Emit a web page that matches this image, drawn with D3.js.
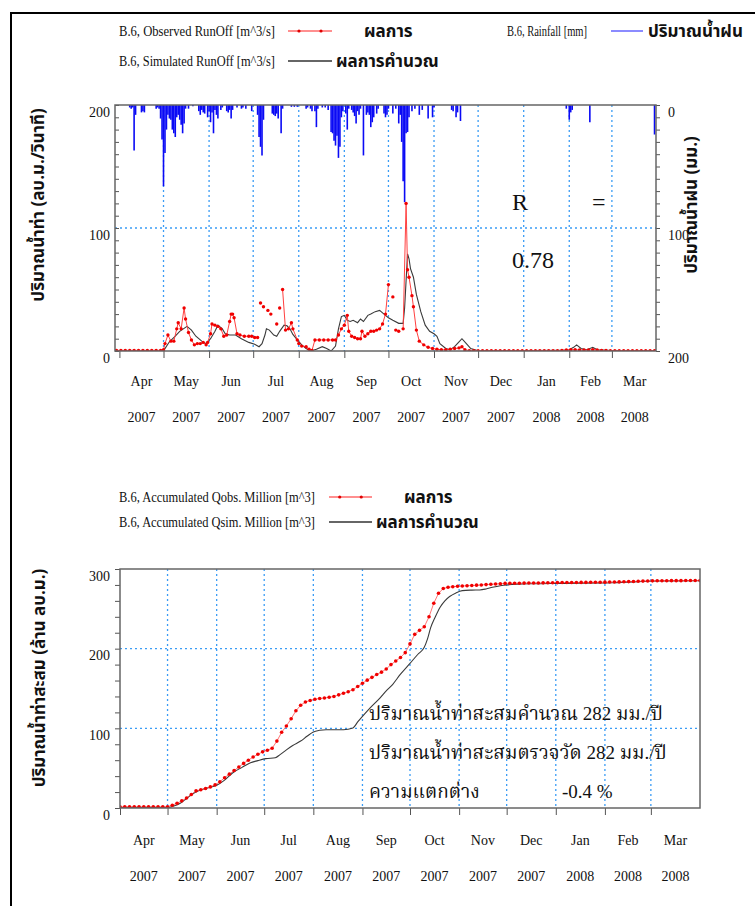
<!DOCTYPE html>
<html>
<head>
<meta charset="utf-8">
<script src="https://cdn.jsdelivr.net/npm/d3@7"></script>
<style>
  body { margin: 0; background: #fff; }
  svg text { font-family: "Liberation Serif", "Times New Roman", serif; fill: #111; }
  .th { font-family: "Tahoma", "Noto Sans Thai", "DejaVu Sans", sans-serif; font-weight: bold; }
  .thserif { font-family: "Liberation Serif", "Noto Serif Thai", serif; }
  .axis path { display: none; }
  .axis line { stroke: #555; }
</style>
</head>
<body>
<svg id="chart" width="755" height="906"></svg>
<script>
// ---- data (day = days after 1 Apr 2007) ----
const months = ['Apr', 'May', 'Jun', 'Jul', 'Aug', 'Sep', 'Oct', 'Nov', 'Dec', 'Jan', 'Feb', 'Mar'];
const years = ['2007', '2007', '2007', '2007', '2007', '2007', '2007', '2007', '2007', '2008', '2008', '2008'];

// observed runoff [m^3/s], null = gap in the record
const obsRunoff = [
  [-2, 0.5], [1, 0.5], [4, 0.5], [7, 0.5], [10, 0.5], [13, 0.5], [16, 0.5], [19, 0.5], [22, 0.5], [25, 0.5], [28, 0.5],
  [30, 1], [31, 6], [33, 13], [35, 8], [37, 8], [39, 18], [40, 23], [42, 18], [44, 35], [45, 26], [47, 15], [49, 9],
  [51, 5], [53, 6], [55, 6], [57, 7], [59, 5], [60, 7], [62, 14], [63, 22], [65, 21], [67, 20], [69, 18], [71, 12],
  [73, 13], [75, 24], [76, 30], [77, 30], [78, 27], [80, 14], [82, 13], [85, 12], [88, 12], [90, 12], [92, 11], [94, 11],
  [95, null], [96, 39], [97, null], [98, 36], [99, null], [101, 33], [102, null], [103, 30], [105, null], [107, 22],
  [108, null], [109, 35], [110, null], [111, 50], [113, 17], [115, 18], [117, 23], [118, 18], [121, 9], [122, 6],
  [124, 4], [127, 3.5], [129, 1.5], [131, 0.5], [133, 9], [136, 9], [139, 9], [142, 9], [145, 9], [147, 9], [149, 13],
  [151, 18], [153, 21], [155, 29], [156, 16], [158, 12], [160, 11], [162, 10], [164, 10], [165, 16], [167, 12],
  [169, 14], [171, 16], [173, 16], [175, 17], [177, 18], [179, 22], [181, 30], [183, 54], [184, null], [186, 44],
  [187, null], [188, 17], [190, 16], [191, null], [193, 18], [195, 120], [196, 66], [197, 60], [199, 45], [200, 36],
  [202, 17], [204, 8], [207, 5], [210, 3], [213, 2], [216, 1.5], [219, 1], [222, 1], [225, 1.5], [228, 2], [231, 2.5],
  [233, 3.5], [235, 1], [238, 0.3], [241, 0.3], [244, 0.3], [247, 0.3], [250, 0.3], [253, 0.3], [256, 0.3], [259, 0.3],
  [262, 0.3], [265, 0.3], [268, 0.3], [271, 0.3], [274, 0.3], [277, 0.3], [280, 0.3], [283, 0.3], [286, 0.3],
  [289, 0.3], [292, 0.3], [295, 0.3], [298, 0.3], [301, 0.5], [304, 0.8], [307, 1], [310, 1], [313, 0.8], [316, 0.8],
  [319, 0.8], [322, 1], [325, 0.8], [328, 0.5], [331, 0.5], [334, 0.3], [337, 0.3], [340, 0.3], [343, 0.3],
  [346, 0.3], [349, 0.3], [352, 0.3], [355, 0.3], [358, 0.3], [361, 0.3], [364, 0.3]
];

// simulated runoff [m^3/s]
const simRunoff = [
  [-3, 0], [29, 0], [31, 2], [34, 7.5], [38, 12], [41, 16], [46, 20], [49, 17], [52, 12], [56, 8], [59, 6], [62, 10],
  [65, 16], [67, 21], [70, 18], [72, 14], [75, 13], [79, 13], [83, 10], [88, 7], [92, 5.5], [95, 3.5], [97, 6],
  [99, 13], [100, 18], [102, 17], [105, 13], [107, 12], [109, 16], [112, 21], [114, 20.5], [116, 18], [118, 13.5],
  [121, 9], [124, 5], [127, 2], [130, 0], [134, 1.5], [138, 3.5], [141, 2], [144, 0], [147, 4], [149, 18], [151, 28],
  [153, 29], [155, 25], [157, 24], [159, 25], [162, 23], [164, 26], [166, 24], [169, 29], [171, 30], [174, 32],
  [177, 33], [179, 31], [181, 29], [183, 27], [186, 25], [190, 22.5], [193, 22.5], [194, 35], [196, 79], [197, 75],
  [198, 67], [200, 60], [202, 46], [205, 32], [208, 21], [211, 16], [214, 14], [216, 12], [218, 6], [222, 2],
  [225, 1], [228, 3.5], [231, 7.5], [233, 10], [236, 6], [239, 2], [243, 0.5], [250, 0.3], [280, 0.3], [305, 0.5],
  [309, 3], [311, 5], [314, 2], [318, 1], [322, 3], [325, 1], [335, 0.3], [365, 0.3]
];

// daily rainfall [mm]
const rainfall = [
  [7, 2], [8, 3], [9, 2], [10, 37], [11, 8], [15, 6], [16, 5], [17, 6], [25, 3], [26, 2], [27, 3], [28, 11], [29, 28],
  [30, 66], [31, 39], [32, 20], [33, 8], [34, 11], [35, 12], [36, 20], [37, 23], [38, 26], [39, 10], [40, 8], [41, 12],
  [42, 16], [43, 23], [44, 15], [45, 3], [47, 3], [50, 1], [54, 5], [55, 8], [56, 4], [57, 6], [58, 7], [60, 10],
  [61, 5], [62, 14], [63, 6], [64, 23], [65, 4], [66, 8], [67, 11], [69, 4], [70, 2], [73, 5], [74, 6], [75, 4],
  [76, 11], [77, 4], [80, 2], [83, 3], [84, 2], [86, 3], [90, 5], [94, 8], [95, 26], [96, 34], [97, 41], [98, 12],
  [104, 7], [105, 8], [106, 9], [107, 7], [108, 11], [110, 23], [111, 3], [117, 1.5], [119, 1.5], [121, 1.5],
  [127, 3], [128, 2], [130, 3], [131, 5], [133, 5], [134, 18], [135, 3], [138, 2], [140, 2], [142, 4], [144, 22],
  [145, 23], [146, 29], [147, 33], [148, 25], [149, 43], [150, 34], [151, 10], [152, 5], [154, 7], [155, 20], [156, 3],
  [158, 4], [159, 6], [160, 9], [161, 15], [162, 5], [163, 8], [164, 3], [166, 41], [168, 8], [169, 6], [170, 8],
  [171, 18], [172, 14], [173, 10], [175, 7], [176, 3], [180, 7], [181, 10], [182, 8], [183, 3], [186, 7], [188, 3],
  [190, 15], [191, 8], [192, 30], [193, 62], [194, 79], [195, 23], [196, 22], [197, 10], [199, 5], [201, 3], [204, 8],
  [206, 4], [210, 11], [213, 10], [214, 2], [226, 4], [227, 5], [229, 10], [230, 6], [232, 13], [304, 3], [306, 12],
  [307, 6], [308, 4], [320, 14], [364, 24]
];

// accumulated observed flow [million m^3]
const accObs = [
  [0, 1.5], [3, 1.5], [6, 1.5], [9, 1.5], [12, 1.5], [15, 1.5], [18, 1.5], [21, 1.5], [24, 1.5], [27, 1.5], [30, 1.5],
  [33, 3.5], [36, 6], [39, 9], [42, 12.5], [45, 17], [48, 21.5], [51, 23], [54, 24.5], [57, 26.5], [60, 29], [63, 33],
  [66, 38], [69, 42.5], [72, 47], [75, 51.5], [78, 56], [81, 60], [84, 64], [87, 67.5], [90, 70.5], [93, 72.5],
  [96, 75], [99, 84], [102, 95], [105, 103], [108, 112], [111, 122], [114, 129], [117, 133], [120, 135], [123, 136.5],
  [126, 137.5], [129, 138], [132, 139], [135, 140], [138, 142], [141, 144], [144, 146], [147, 148.5], [150, 152.5],
  [153, 156.5], [156, 160.5], [159, 164], [162, 167.5], [165, 170.5], [168, 174.5], [171, 180], [174, 184.5],
  [177, 189], [180, 195], [183, 206], [186, 218], [189, 223], [192, 227.5], [195, 240], [198, 257], [201, 269.5],
  [204, 275.5], [207, 277], [210, 277.8], [213, 278.3], [216, 278.7], [219, 279], [222, 279.3], [225, 279.7],
  [228, 280], [231, 280.4], [234, 280.8], [237, 281.2], [240, 281.5], [243, 281.9], [246, 282], [249, 282.1],
  [252, 282.2], [255, 282.3], [258, 282.4], [261, 282.5], [264, 282.5], [267, 282.6], [270, 282.7], [273, 282.8],
  [276, 282.9], [279, 283], [282, 283], [285, 283.1], [288, 283.1], [291, 283.2], [294, 283.2], [297, 283.3],
  [300, 283.4], [303, 283.4], [306, 283.5], [309, 283.6], [312, 283.6], [315, 283.8], [318, 284], [321, 284.2],
  [324, 284.4], [327, 284.6], [330, 284.8], [333, 285], [336, 285.1], [339, 285.2], [342, 285.3], [345, 285.3],
  [348, 285.4], [351, 285.4], [354, 285.4], [357, 285.5], [360, 285.5], [363, 285.5], [366, 285.6]
];

// accumulated simulated flow [million m^3]
const accSim = [
  [0, 0.5], [30, 0.5], [34, 2.5], [38, 6], [42, 12], [46, 18], [50, 22], [55, 25], [61, 28.5], [66, 35], [71, 44],
  [77, 51], [82, 56.5], [87, 59.5], [92, 62], [98, 63], [101, 67], [105, 73], [109, 78.5], [114, 84], [118, 90],
  [122, 95.5], [126, 97.5], [130, 98.3], [141, 98.3], [147, 100.5], [150, 108], [153, 115], [158, 126], [164, 138],
  [168, 147], [172, 155], [177, 168], [183, 181.6], [188, 193], [192, 201.7], [194, 212], [196, 226], [199, 240],
  [202, 252], [205, 260], [208, 265.5], [212, 270], [216, 272.8], [222, 273.5], [227, 273.7], [231, 275], [235, 277],
  [240, 279], [244, 280], [260, 281.5], [278, 282], [311, 282.8], [341, 285], [366, 285.3]
];

const rValue = '0.78';
const noteLines = ['ปริมาณน้ำท่าสะสมคำนวณ 282 มม./ปี', 'ปริมาณน้ำท่าสะสมตรวจวัด 282 มม./ปี', 'ความแตกต่าง'];
const diffText = '-0.4 %';

// ---- helpers ----
const t0 = Date.UTC(2007, 3, 1);
const day = d => new Date(t0 + d * 864e5);
const monthStarts = d3.range(0, 13).map(i => new Date(Date.UTC(2007, 3 + i, 1)));

const svg = d3.select('#chart');

// page frame
svg.append('path')
    .attr('d', 'M11,906 V13 H755')
    .attr('fill', 'none')
    .attr('stroke', '#000')
    .attr('stroke-width', 2);

function legendEntry(g, y, label, x1, x2, color, dots, thai, thaiX, labelW) {
    g.append('text')
        .attr('x', 119).attr('y', y + 4.5)
        .attr('font-size', 14)
        .attr('textLength', labelW).attr('lengthAdjust', 'spacingAndGlyphs')
        .text(label);
    g.append('line')
        .attr('x1', x1).attr('x2', x2).attr('y1', y).attr('y2', y)
        .attr('stroke', color).attr('stroke-width', 1.6);
    if (dots) {
        [x1 + (x2 - x1) * 0.25, x1 + (x2 - x1) * 0.75].forEach(cx => {
            g.append('circle').attr('cx', cx).attr('cy', y).attr('r', 1.6).attr('fill', '#e00000');
        });
    }
    g.append('text')
        .attr('class', 'th')
        .attr('x', thaiX).attr('y', y + 6)
        .attr('font-size', 17)
        .text(thai);
}

function grid(g, x, y, xr, yr, yVals) {
    const dash = { stroke: '#3a9cf5', 'stroke-width': 1.3, 'stroke-dasharray': '2,3' };
    const vg = g.selectAll('line.vg').data(monthStarts.slice(1, 12)).enter()
        .append('line').attr('class', 'vg')
        .attr('x1', d => x(d)).attr('x2', d => x(d))
        .attr('y1', yr[0]).attr('y2', yr[1]);
    const hg = g.selectAll('line.hg').data(yVals).enter()
        .append('line').attr('class', 'hg')
        .attr('x1', xr[0]).attr('x2', xr[1])
        .attr('y1', d => y(d)).attr('y2', d => y(d));
    Object.entries(dash).forEach(([k, v]) => { vg.attr(k, v); hg.attr(k, v); });
}

function monthLabels(g, x, yMonth, yYear) {
    monthStarts.slice(0, 12).forEach((m, i) => {
        const cx = (x(m) + x(monthStarts[i + 1])) / 2;
        g.append('text').attr('x', cx).attr('y', yMonth).attr('text-anchor', 'middle')
            .attr('font-size', 14).text(months[i]);
        g.append('text').attr('x', cx).attr('y', yYear).attr('text-anchor', 'middle')
            .attr('font-size', 14).text(years[i]);
    });
}

// ================= top chart: runoff + rainfall =================
const topG = svg.append('g');
const xT = d3.scaleUtc().domain([day(-3), day(365)]).range([115, 656]);
const yT = d3.scaleLinear().domain([0, 200]).range([351, 105]);
const yR = d3.scaleLinear().domain([0, 200]).range([105, 351]);

legendEntry(topG, 31, 'B.6, Observed RunOff [m^3/s]', 288, 332, '#ff6a6a', true, 'ผลการ', 364, 156);
legendEntry(topG, 61, 'B.6, Simulated RunOff [m^3/s]', 288, 332, '#333', false, 'ผลการคำนวณ', 336, 156);
topG.append('text').attr('x', 507).attr('y', 35.5).attr('font-size', 14)
    .attr('textLength', 80).attr('lengthAdjust', 'spacingAndGlyphs').text('B.6, Rainfall [mm]');
topG.append('line').attr('x1', 611).attr('x2', 643).attr('y1', 31).attr('y2', 31)
    .attr('stroke', '#6e6eff').attr('stroke-width', 1.6);
topG.append('text').attr('class', 'th').attr('x', 648).attr('y', 37).attr('font-size', 17).text('ปริมาณน้ำฝน');

topG.append('clipPath').attr('id', 'clipT').append('rect')
    .attr('x', 115).attr('y', 105).attr('width', 541).attr('height', 246);

grid(topG, xT, yT, [115, 656], [105, 351], [100]);

const plotT = topG.append('g').attr('clip-path', 'url(#clipT)');

plotT.selectAll('line.rain').data(rainfall).enter()
    .append('line').attr('class', 'rain')
    .attr('x1', d => xT(day(d[0]))).attr('x2', d => xT(day(d[0])))
    .attr('y1', yR(0)).attr('y2', d => yR(d[1]))
    .attr('stroke', '#0a0af5').attr('stroke-width', 1.6);

const lineT = d3.line()
    .defined(d => d[1] !== null)
    .x(d => xT(day(d[0])))
    .y(d => yT(d[1]));

plotT.append('path').datum(simRunoff)
    .attr('d', lineT).attr('fill', 'none')
    .attr('stroke', '#3a3a3a').attr('stroke-width', 1.1);

plotT.append('path').datum(obsRunoff)
    .attr('d', lineT).attr('fill', 'none')
    .attr('stroke', '#ff4040').attr('stroke-width', 1);

plotT.selectAll('circle.obs').data(obsRunoff.filter(d => d[1] !== null)).enter()
    .append('circle').attr('class', 'obs')
    .attr('cx', d => xT(day(d[0]))).attr('cy', d => yT(d[1]))
    .attr('r', 1.7).attr('fill', '#f00000');

// axes
topG.append('g').attr('class', 'axis')
    .attr('transform', 'translate(115,0)')
    .call(d3.axisLeft(yT).tickValues(d3.range(0, 201, 10)).tickSize(-4).tickPadding(5)
        .tickFormat(d => d % 100 === 0 ? d : ''))
    .call(g => g.selectAll('text').attr('dy', '0.8em').attr('font-size', 14)
        .attr('font-family', 'Liberation Serif'));

topG.append('g').attr('class', 'axis')
    .attr('transform', 'translate(656,0)')
    .call(d3.axisRight(yR).tickValues(d3.range(0, 201, 10)).tickSize(4).tickPadding(8)
        .tickFormat(d => d % 100 === 0 ? d : ''))
    .call(g => g.selectAll('text').attr('dy', '0.8em').attr('font-size', 14)
        .attr('font-family', 'Liberation Serif'));

topG.append('g').attr('class', 'axis')
    .attr('transform', 'translate(0,351)')
    .call(d3.axisBottom(xT).tickValues(monthStarts.slice(0, 12)).tickSize(7).tickFormat(''));

topG.append('rect')
    .attr('x', 115).attr('y', 105).attr('width', 541).attr('height', 246)
    .attr('fill', 'none').attr('stroke', '#666').attr('stroke-width', 1.5);

monthLabels(topG, xT, 386, 422);

topG.append('text').attr('class', 'th').attr('font-size', 17)
    .attr('transform', 'translate(44,205) rotate(-90)').attr('text-anchor', 'middle')
    .text('ปริมาณน้ำท่า (ลบ.ม./วินาที)');
topG.append('text').attr('class', 'th').attr('font-size', 17)
    .attr('transform', 'translate(697,205) rotate(-90)').attr('text-anchor', 'middle')
    .text('ปริมาณน้ำฝน (มม.)');

topG.append('text').attr('x', 512).attr('y', 210).attr('font-size', 24).text('R');
topG.append('text').attr('x', 592).attr('y', 210).attr('font-size', 24).text('=');
topG.append('text').attr('x', 512).attr('y', 268).attr('font-size', 24).text(rValue);

// ================= bottom chart: accumulated flow =================
const botG = svg.append('g');
const xB = d3.scaleUtc().domain([day(0), day(366)]).range([120, 700]);
const yB = d3.scaleLinear().domain([0, 300]).range([808, 569]);

legendEntry(botG, 497, 'B.6, Accumulated Qobs. Million [m^3]', 329, 372, '#ff6a6a', true, 'ผลการ', 404, 196);
legendEntry(botG, 522, 'B.6, Accumulated Qsim. Million [m^3]', 329, 372, '#333', false, 'ผลการคำนวณ', 376, 196);

botG.append('clipPath').attr('id', 'clipB').append('rect')
    .attr('x', 120).attr('y', 569).attr('width', 580).attr('height', 239);

grid(botG, xB, yB, [120, 700], [569, 808], [100, 200]);

const plotB = botG.append('g').attr('clip-path', 'url(#clipB)');
const lineB = d3.line().x(d => xB(day(d[0]))).y(d => yB(d[1]));

plotB.append('path').datum(accSim)
    .attr('d', lineB.curve(d3.curveMonotoneX)).attr('fill', 'none')
    .attr('stroke', '#3a3a3a').attr('stroke-width', 1.1);

plotB.append('path').datum(accObs)
    .attr('d', d3.line().x(d => xB(day(d[0]))).y(d => yB(d[1]))).attr('fill', 'none')
    .attr('stroke', '#ff5050').attr('stroke-width', 0.8);

plotB.selectAll('circle.acc').data(accObs).enter()
    .append('circle').attr('class', 'acc')
    .attr('cx', d => xB(day(d[0]))).attr('cy', d => yB(d[1]))
    .attr('r', 1.8).attr('fill', '#f00000');

botG.append('g').attr('class', 'axis')
    .attr('transform', 'translate(120,0)')
    .call(d3.axisLeft(yB).tickValues(d3.range(0, 301, 20)).tickSize(5).tickPadding(5)
        .tickFormat(d => d % 100 === 0 ? d : ''))
    .call(g => g.selectAll('text').attr('dy', '0.8em').attr('font-size', 14)
        .attr('font-family', 'Liberation Serif'));

botG.append('g').attr('class', 'axis')
    .attr('transform', 'translate(0,808)')
    .call(d3.axisBottom(xB).tickValues(monthStarts.slice(0, 12)).tickSize(7).tickFormat(''));

botG.append('rect')
    .attr('x', 120).attr('y', 569).attr('width', 580).attr('height', 239)
    .attr('fill', 'none').attr('stroke', '#666').attr('stroke-width', 1.5);

monthLabels(botG, xB, 845, 881);

botG.append('text').attr('class', 'th').attr('font-size', 17)
    .attr('transform', 'translate(45,678) rotate(-90)').attr('text-anchor', 'middle')
    .text('ปริมาณน้ำท่าสะสม (ล้าน ลบ.ม.)');

noteLines.forEach((s, i) => {
    botG.append('text').attr('class', 'thserif')
        .attr('x', 369).attr('y', 720 + i * 39).attr('font-size', 19)
        .text(s);
});
botG.append('text').attr('x', 562).attr('y', 798).attr('font-size', 19).text(diffText);
</script>
</body>
</html>
